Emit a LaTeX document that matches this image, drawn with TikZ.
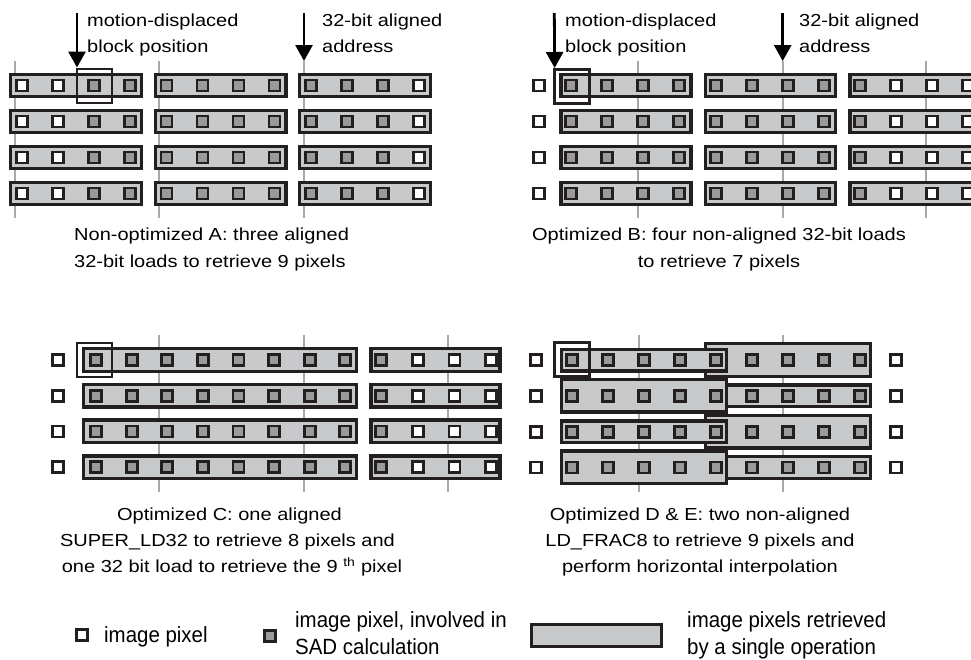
\documentclass[tikz,border=0pt]{standalone}
\usepackage{fontspec}
\setmainfont{Liberation Sans}
\newfontfamily\labfont[FakeStretch=1.15]{Liberation Sans}
\newfontfamily\legfont[FakeStretch=0.93]{Liberation Sans}
\usetikzlibrary{arrows.meta}

\definecolor{ink}{HTML}{231F20}
\definecolor{barfill}{HTML}{C8C9CB}
\definecolor{sadfill}{HTML}{9A9A9C}
\definecolor{gridline}{HTML}{A7A9AC}

\tikzset{
  pix/.style={rectangle, draw=ink, line width=2.8pt, fill=white,
    minimum size=11pt, inner sep=0pt, outer sep=0pt},
  sadpix/.style={pix, fill=sadfill},
  loadbar/.style={rectangle, draw=ink, line width=3.4pt, fill=barfill,
    inner sep=0pt, outer sep=0pt},
  gridln/.style={draw=gridline, line width=2.2pt},
  mvbox/.style={rectangle, draw=ink, line width=2.6pt, inner sep=0pt,
    outer sep=0pt, minimum width=35pt, minimum height=34pt},
  pointer/.style={draw=black, line width=2.8pt,
    -{Triangle[width=17pt,length=16pt]}},
  lab/.style={inner sep=0pt, font=\labfont\fontsize{17.4}{20}\selectfont},
  leg/.style={inner sep=0pt, font=\legfont\fontsize{22}{26}\selectfont},
}

% load bar given by its outer edges: name, x1, y1, x2, y2
\newcommand\ldbar[5]{%
  \node[loadbar, minimum width={(#4)-(#2)-3.4}, minimum height={(#5)-(#3)-3.4}]
    (#1) at ({((#2)+(#4))/2},{((#3)+(#5))/2}) {};}

\begin{document}
\begin{tikzpicture}[x=1pt,y=-1pt]
\useasboundingbox (0,0) rectangle (971,659);
\clip (0,0) rectangle (971,659);

% ---------------- A: three aligned 32-bit loads ----------------
\coordinate (a-addr) at (304,61);
\draw[gridln] (15,61) -- (15,218);
\draw[gridln] (159,61) -- (159,218);
\draw[gridln] (a-addr) -- (304,218);
\foreach \r in {0,...,3} {
  \pgfmathsetmacro\yc{85.5+36*\r}
  \foreach \k in {0,1,2} {
    \pgfmathsetmacro\bl{9+144.5*\k}
    \ldbar{a-bar-\r-\k}{\bl}{\yc-12.5}{\bl+134}{\yc+12.5}
    \foreach \j in {0,...,3} {
      \pgfmathtruncatemacro\g{4*\k+\j}
      \pgfmathsetmacro\px{\bl+13+36*\j}
      \ifnum\g<2
        \node[pix] (a-px-\r-\g) at (\px,\yc) {};
      \else\ifnum\g>10
        \node[pix] (a-px-\r-\g) at (\px,\yc) {};
      \else
        \node[sadpix] (a-px-\r-\g) at (\px,\yc) {};
      \fi\fi
    }
  }
}
\node[mvbox] (a-box) at (94.5,86) {};
\coordinate (a-arr1) at (77,13);
\coordinate (a-arr2) at (304,13);
\draw[pointer, shorten >=1.5pt] (a-arr1) -- (a-box.north west);
\draw[pointer] (a-arr2) -- (a-addr);
\node[lab, anchor=base west] (a-t1) at (87,26) {motion-displaced};
\node[lab, anchor=base west] (a-t2) at (87,52.5) {block position};
\node[lab, anchor=base west] (a-t3) at (322,26) {32-bit aligned};
\node[lab, anchor=base west] (a-t4) at (322,52.5) {address};
\node[lab, anchor=base west] (a-c1) at (74,240.7) {Non-optimized A: three aligned};
\node[lab, anchor=base west] (a-c2) at (74,267.3) {32-bit loads to retrieve 9 pixels};

% ---------------- B: four non-aligned 32-bit loads ----------------
\coordinate (b-addr) at (782.7,61);
\draw[gridln] (638.3,61) -- (638.3,218);
\draw[gridln] (b-addr) -- (782.7,218);
\draw[gridln] (926,61) -- (926,218);
\foreach \r in {0,...,3} {
  \pgfmathsetmacro\yc{85.5+36*\r}
  \node[pix] (b-iso-\r) at (539.3,\yc) {};
  \foreach \k in {0,1,2} {
    \pgfmathsetmacro\bl{559.3+144.5*\k}
    \ldbar{b-bar-\r-\k}{\bl}{\yc-12.5}{\bl+133.4}{\yc+12.5}
    \foreach \j in {0,...,3} {
      \pgfmathtruncatemacro\g{4*\k+\j}
      \pgfmathsetmacro\px{\bl+12+36*\j}
      \ifnum\g>8
        \node[pix] (b-px-\r-\g) at (\px,\yc) {};
      \else
        \node[sadpix] (b-px-\r-\g) at (\px,\yc) {};
      \fi
    }
  }
}
\node[mvbox] (b-box) at (572.2,86.5) {};
\coordinate (b-arr1) at (554.3,13);
\coordinate (b-arr2) at (782.7,13);
\draw[pointer, shorten >=1.5pt] (b-arr1) -- (b-box.north west);
\draw[pointer] (b-arr2) -- (b-addr);
\node[lab, anchor=base west] (b-t1) at (565,26) {motion-displaced};
\node[lab, anchor=base west] (b-t2) at (565,52.5) {block position};
\node[lab, anchor=base west] (b-t3) at (799,26) {32-bit aligned};
\node[lab, anchor=base west] (b-t4) at (799,52.5) {address};
\node[lab, anchor=base] (b-c1) at (719,240.7) {Optimized B: four non-aligned 32-bit loads};
\node[lab, anchor=base] (b-c2) at (719,267.3) {to retrieve 7 pixels};

% ---------------- C: SUPER_LD32 plus one 32-bit load ----------------
\draw[gridln] (159.3,335) -- (159.3,491.7);
\draw[gridln] (304.3,335) -- (304.3,491.7);
\draw[gridln] (448.3,335) -- (448.3,491.7);
\foreach \r in {0,...,3} {
  \pgfmathsetmacro\yc{360+35.7*\r}
  \node[pix] (c-iso-\r) at (58.3,\yc) {};
  \ldbar{c-long-\r}{81.7}{\yc-13}{358.3}{\yc+13}
  \ldbar{c-short-\r}{369.3}{\yc-13}{501.7}{\yc+13}
  \foreach \j in {0,...,7} {
    \node[sadpix] (c-px-\r-\j) at ({96+35.6*\j},\yc) {};
  }
  \foreach \j in {0,...,3} {
    \pgfmathsetmacro\px{381+36.7*\j}
    \ifnum\j=0
      \node[sadpix] (c-sx-\r-\j) at (\px,\yc) {};
    \else
      \node[pix] (c-sx-\r-\j) at (\px,\yc) {};
    \fi
  }
}
\node[mvbox] (c-box) at (94.5,360) {};
\node[lab, anchor=base] (c-c1) at (229.5,520) {Optimized C: one aligned};
\node[lab, anchor=base] (c-c2) at (227.5,546.5) {SUPER\_LD32 to retrieve 8 pixels and};
\node[lab, anchor=base] (c-c3) at (232,572.7) {one 32 bit load to retrieve the 9~\textsuperscript{th} pixel};

% ---------------- D & E: two non-aligned LD_FRAC8 ----------------
\draw[gridln] (639.3,335) -- (639.3,492);
\draw[gridln] (782.7,335) -- (782.7,492);
\foreach \r in {0,...,3} {
  \pgfmathsetmacro\yc{360+35.8*\r}
  \ifodd\r
    \ldbar{d-right-\r}{704}{\yc-12.5}{872.3}{\yc+12.5}
    \ldbar{d-left-\r}{560}{\yc-18}{728.3}{\yc+18}
  \else
    \ldbar{d-right-\r}{704}{\yc-18}{872.3}{\yc+18}
    \ldbar{d-left-\r}{560}{\yc-12.5}{728.3}{\yc+12.5}
  \fi
}
\foreach \r in {0,...,3} {
  \pgfmathsetmacro\yc{360+35.8*\r}
  \node[pix] (d-isol-\r) at (536,\yc) {};
  \node[pix] (d-isor-\r) at (896,\yc) {};
  \foreach \j in {0,...,8} {
    \node[sadpix] (d-px-\r-\j) at ({571.7+36.04*\j},\yc) {};
  }
}
\node[mvbox] (d-box) at (572.2,359.7) {};
\node[lab, anchor=base] (d-c1) at (700,520) {Optimized D \& E: two non-aligned};
\node[lab, anchor=base] (d-c2) at (700,546.5) {LD\_FRAC8 to retrieve 9 pixels and};
\node[lab, anchor=base] (d-c3) at (700,572.7) {perform horizontal interpolation};

% ---------------- legend ----------------
\node[pix] (l-px) at (82,635) {};
\node[leg, anchor=base west] (l-t1) at (104,642) {image pixel};
\node[sadpix] (l-sad) at (270,636) {};
\node[leg, anchor=base west] (l-t2) at (295,627) {image pixel, involved in};
\node[leg, anchor=base west] (l-t3) at (295,654) {SAD calculation};
\ldbar{l-bar}{530}{623}{663}{648}
\node[leg, anchor=base west] (l-t4) at (687,627) {image pixels retrieved};
\node[leg, anchor=base west] (l-t5) at (687,654) {by a single operation};
\end{tikzpicture}
\end{document}
